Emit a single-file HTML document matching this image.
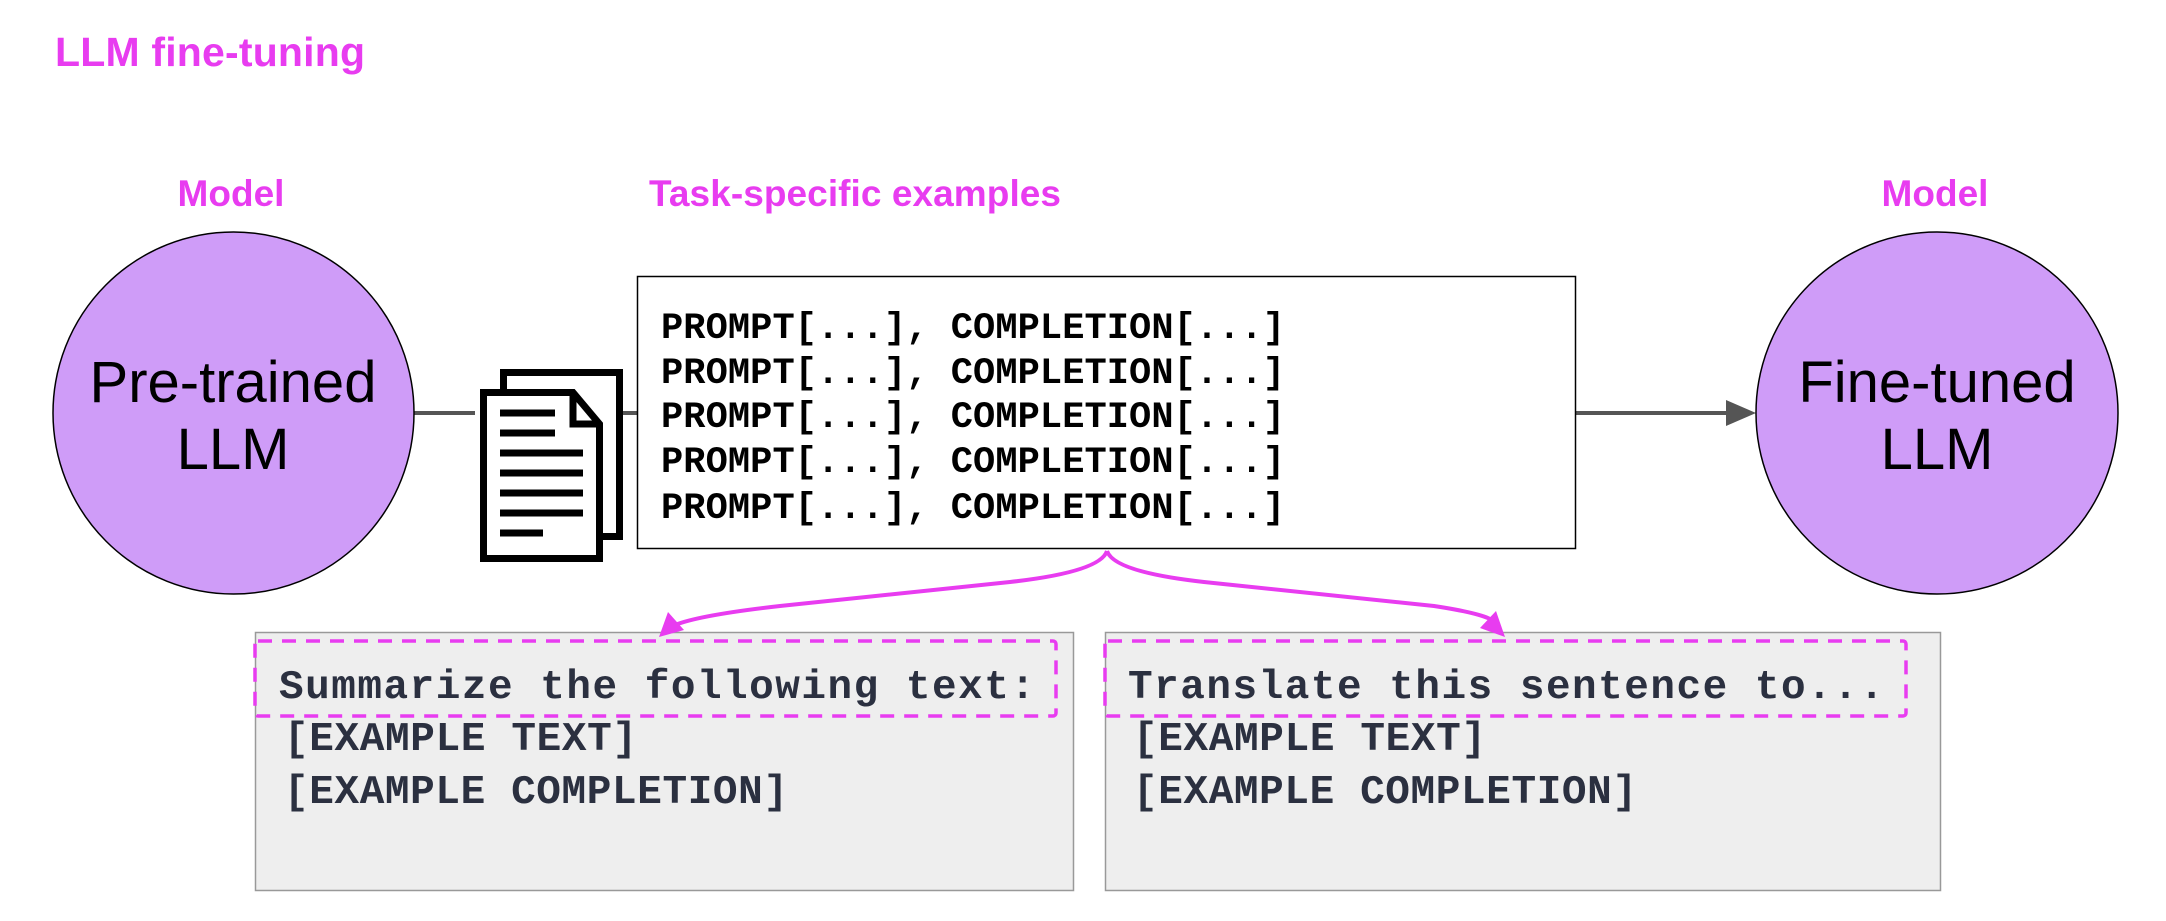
<!DOCTYPE html>
<html><head><meta charset="utf-8"><style>
html,body{margin:0;padding:0;background:#fff;}
body{width:2166px;height:916px;position:relative;overflow:hidden;}
</style></head><body>
<svg width="2166" height="916" viewBox="0 0 2166 916" xmlns="http://www.w3.org/2000/svg">
<text x="55" y="66" font-family="Liberation Sans, sans-serif" font-weight="bold" font-size="41" fill="#e83cf0" textLength="310">LLM fine-tuning</text>
<text x="231" y="206" text-anchor="middle" font-family="Liberation Sans, sans-serif" font-weight="bold" font-size="37" fill="#e83cf0">Model</text>
<text x="855" y="206" text-anchor="middle" font-family="Liberation Sans, sans-serif" font-weight="bold" font-size="37" fill="#e83cf0" textLength="412">Task-specific examples</text>
<text x="1935" y="206" text-anchor="middle" font-family="Liberation Sans, sans-serif" font-weight="bold" font-size="37" fill="#e83cf0">Model</text>

<line x1="414" y1="413" x2="475" y2="413" stroke="#555" stroke-width="4"/>
<line x1="620" y1="413" x2="637" y2="413" stroke="#555" stroke-width="4"/>
<line x1="1576" y1="413" x2="1730" y2="413" stroke="#555" stroke-width="4"/>
<path d="M1726,400 L1756,413 L1726,426 Z" fill="#555"/>

<ellipse cx="233.5" cy="413" rx="180.5" ry="181" fill="#cf9cf8" stroke="#000" stroke-width="1.5"/>
<text x="233" y="402" text-anchor="middle" font-family="Liberation Sans, sans-serif" font-size="58" fill="#000">Pre-trained</text>
<text x="233" y="469" text-anchor="middle" font-family="Liberation Sans, sans-serif" font-size="58" fill="#000">LLM</text>
<ellipse cx="1937" cy="413" rx="181" ry="181" fill="#cf9cf8" stroke="#000" stroke-width="1.5"/>
<text x="1937" y="402" text-anchor="middle" font-family="Liberation Sans, sans-serif" font-size="58" fill="#000">Fine-tuned</text>
<text x="1937" y="469" text-anchor="middle" font-family="Liberation Sans, sans-serif" font-size="58" fill="#000">LLM</text>

<!-- doc icon -->
<rect x="503.5" y="372.5" width="116" height="164" fill="#fff" stroke="#000" stroke-width="7"/>
<path d="M483.5,392.5 L573,392.5 L599.5,424 L599.5,558.5 L483.5,558.5 Z" fill="#fff" stroke="#000" stroke-width="7"/>
<path d="M573,392.5 L573,424 L599.5,424" fill="none" stroke="#000" stroke-width="7"/>
<g stroke="#000" stroke-width="7">
<line x1="500" y1="413" x2="555" y2="413"/><line x1="500" y1="433" x2="555" y2="433"/>
<line x1="500" y1="453" x2="583" y2="453"/><line x1="500" y1="473" x2="583" y2="473"/>
<line x1="500" y1="493" x2="583" y2="493"/><line x1="500" y1="513" x2="583" y2="513"/>
<line x1="500" y1="533" x2="543" y2="533"/>
</g>

<rect x="637.5" y="276.5" width="938" height="272" fill="#fff" stroke="#000" stroke-width="1.5"/>
<g font-family="Liberation Mono, monospace" font-weight="bold" font-size="37" fill="#000">
<text x="661" y="338" textLength="624">PROMPT[...], COMPLETION[...]</text>
<text x="661" y="383" textLength="624">PROMPT[...], COMPLETION[...]</text>
<text x="661" y="427" textLength="624">PROMPT[...], COMPLETION[...]</text>
<text x="661" y="472" textLength="624">PROMPT[...], COMPLETION[...]</text>
<text x="661" y="518" textLength="624">PROMPT[...], COMPLETION[...]</text>
</g>

<rect x="255.5" y="632.5" width="818" height="258" fill="#eeeeee" stroke="#999" stroke-width="1.5"/>
<rect x="1105.5" y="632.5" width="835" height="258" fill="#eeeeee" stroke="#999" stroke-width="1.5"/>

<g font-family="Liberation Mono, monospace" font-weight="bold" font-size="41" fill="#2b3040">
<text x="279" y="698" textLength="756">Summarize the following text:</text>
<text x="284" y="750" textLength="353">[EXAMPLE TEXT]</text>
<text x="284" y="803" textLength="504">[EXAMPLE COMPLETION]</text>
<text x="1128" y="698" textLength="756">Translate this sentence to...</text>
<text x="1133" y="750" textLength="353">[EXAMPLE TEXT]</text>
<text x="1133" y="803" textLength="504">[EXAMPLE COMPLETION]</text>
</g>
<rect x="255" y="641" width="801" height="75" fill="none" stroke="#e83cf0" stroke-width="3.5" stroke-dasharray="14,10" rx="3"/>
<rect x="1105" y="641" width="801" height="75" fill="none" stroke="#e83cf0" stroke-width="3.5" stroke-dasharray="14,10" rx="3"/>

<g fill="none" stroke="#e83cf0" stroke-width="4">
<path d="M1107,551 Q1100,572 1010,582 L780,606 Q700,615 675,625"/>
<path d="M1107,551 Q1114,572 1204,582 L1434,606 Q1480,613 1492,620"/>
</g>
<path d="M659,637 L668,612 L684,630 Z" fill="#e83cf0"/>
<path d="M1505,637 L1480,628 L1496,611 Z" fill="#e83cf0"/>
</svg>
</body></html>
